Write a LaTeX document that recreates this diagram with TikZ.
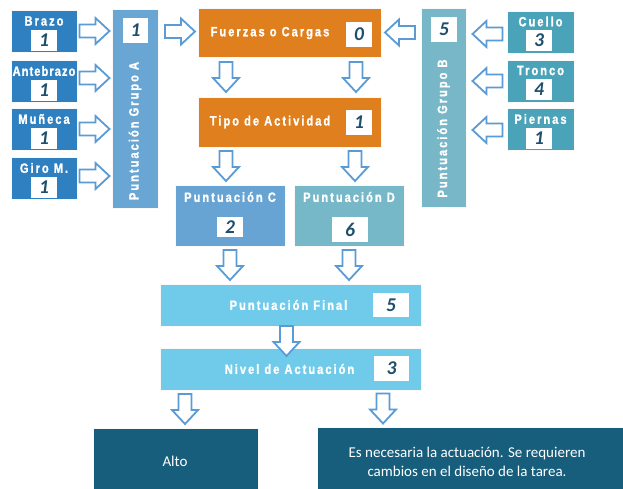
\documentclass[tikz,border=0pt]{standalone}
\usepackage{fontspec}
\setmainfont{Liberation Sans}
\newfontfamily\lblfont[FakeStretch=0.82,LetterSpace=15,BoldFeatures={FakeBold=1.3}]{Liberation Sans}
\newfontfamily\numfont{Carlito}
\newfontfamily\txtfont{Carlito}
\usetikzlibrary{calc}
\definecolor{cLeft}{HTML}{2E80C0}
\definecolor{cGA}{HTML}{6AA6D4}
\definecolor{cOr}{HTML}{E07F1D}
\definecolor{cGB}{HTML}{78B7C7}
\definecolor{cRight}{HTML}{4AA3B8}
\definecolor{cC}{HTML}{67A4D3}
\definecolor{cD}{HTML}{76B8C8}
\definecolor{cFin}{HTML}{70CBEB}
\definecolor{cDark}{HTML}{175D7C}
\definecolor{cNum}{HTML}{1E4E6B}
\definecolor{cArr}{HTML}{5B9BD5}
\tikzset{
  box/.style={rectangle, draw=white!75!black!10, line width=0.6pt, inner sep=0pt, outer sep=0pt},
  lbl/.style={text=white, font=\lblfont\bfseries\fontsize{13.5}{15}\selectfont, inner sep=0pt},
  numbox/.style={fill=white, inner sep=0pt, text=cNum, font=\numfont\bfseries\itshape\fontsize{19.5}{20}\selectfont},
  arrowline/.style={draw=cArr, fill=white, line width=1.8pt, line join=miter},
  harrow/.pic={\path[arrowline] (-15,-6.5) -- (1,-6.5) -- (1,-13) -- (15,0) -- (1,13) -- (1,6.5) -- (-15,6.5) -- cycle;},
  bottxt/.style={text=white, align=center, font=\txtfont\fontsize{15}{19}\selectfont, inner sep=0pt}
}
\begin{document}
\begin{tikzpicture}[x=1pt,y=-1pt]
\useasboundingbox (0,0) rectangle (623,488);
\fill[white] (0,0) rectangle (623,488);
% left boxes
\node[box, fill=cLeft, minimum width=66pt, minimum height=42pt] (brazo) at (44,31) {};
\node[box, fill=cLeft, minimum width=66pt, minimum height=42pt] (ante) at (44,81) {};
\node[box, fill=cLeft, minimum width=66pt, minimum height=42pt] (muneca) at (44,129) {};
\node[box, fill=cLeft, minimum width=66pt, minimum height=42pt] (giro) at (44,178) {};
\node[lbl] (brazoL) at ($(brazo.north)+(0,11)$) {Brazo};
\node[lbl] (anteL) at ($(ante.north)+(0,11)$) {\addfontfeature{LetterSpace=8}Antebrazo};
\node[lbl] (munecaL) at ($(muneca.north)+(0,11)$) {Muñeca};
\node[lbl] (giroL) at ($(giro.north)+(0,11)$) {Giro M.};
\node[numbox, minimum width=26pt, minimum height=21pt] (brazoN) at ($(brazo.north)+(0,30.5)$) {1};
\node[numbox, minimum width=26pt, minimum height=21pt] (anteN) at ($(ante.north)+(0,30.5)$) {1};
\node[numbox, minimum width=26pt, minimum height=21pt] (munecaN) at ($(muneca.north)+(0,30.5)$) {1};
\node[numbox, minimum width=26pt, minimum height=21pt] (giroN) at ($(giro.north)+(0,30.5)$) {1};
% group A
\node[box, fill=cGA, minimum width=46pt, minimum height=199pt] (ga) at (135,108.5) {};
\node[numbox, minimum width=25pt, minimum height=25pt] (gaN) at (135.5,30.5) {1};
\node[lbl, rotate=90] (gaL) at (135,131) {Puntuación Grupo A};
% group B
\node[box, fill=cGB, minimum width=45pt, minimum height=199pt] (gb) at (443.5,107.5) {};
\node[numbox, minimum width=26pt, minimum height=25pt] (gbN) at (444,29.5) {5};
\node[lbl, rotate=90] (gbL) at (443.5,128.5) {Puntuación Grupo B};
% right boxes
\node[box, fill=cRight, minimum width=67pt, minimum height=42pt] (cuello) at (540.5,32) {};
\node[box, fill=cRight, minimum width=67pt, minimum height=42pt] (tronco) at (540.5,81) {};
\node[box, fill=cRight, minimum width=67pt, minimum height=42pt] (piernas) at (540.5,129.5) {};
\node[lbl] (cuelloL) at ($(cuello.north)+(0,10.5)$) {Cuello};
\node[lbl] (troncoL) at ($(tronco.north)+(0,10.5)$) {Tronco};
\node[lbl] (piernasL) at ($(piernas.north)+(0,10.5)$) {Piernas};
\node[numbox, minimum width=26pt, minimum height=21pt] (cuelloN) at ($(cuello.north)+(-1.5,29.5)$) {3};
\node[numbox, minimum width=26pt, minimum height=21pt] (troncoN) at ($(tronco.north)+(-1.5,29.5)$) {4};
\node[numbox, minimum width=26pt, minimum height=21pt] (piernasN) at ($(piernas.north)+(-1.5,29.5)$) {1};
% orange boxes
\node[box, fill=cOr, minimum width=183pt, minimum height=49pt] (fz) at (289.5,32.5) {};
\node[lbl] (fzL) at (270,33) {Fuerzas o Cargas};
\node[numbox, minimum width=26pt, minimum height=25pt] (fzN) at (359,34.5) {0};
\node[box, fill=cOr, minimum width=183pt, minimum height=50pt] (tipo) at (289.5,122) {};
\node[lbl] (tipoL) at (270,122) {Tipo de Actividad};
\node[numbox, minimum width=26pt, minimum height=25pt] (tipoN) at (359,122.5) {1};
% C and D
\node[box, fill=cC, minimum width=110pt, minimum height=61pt] (pc) at (230,215.5) {};
\node[lbl] (pcL) at ($(pc.north)+(0,12)$) {Puntuación C};
\node[numbox, minimum width=26pt, minimum height=20pt] (pcN) at (230,227) {2};
\node[box, fill=cD, minimum width=110pt, minimum height=61pt] (pd) at (349,215.5) {};
\node[lbl] (pdL) at ($(pd.north)+(0,12)$) {Puntuación D};
\node[numbox, minimum width=36pt, minimum height=25pt] (pdN) at (350,229.5) {6};
% final and nivel
\node[box, fill=cFin, minimum width=261pt, minimum height=42pt] (pf) at (290.5,305) {};
\node[lbl] (pfL) at (288.5,305) {Puntuación Final};
\node[numbox, minimum width=36pt, minimum height=24pt] (pfN) at (391,305) {5};
\node[box, fill=cFin, minimum width=261pt, minimum height=42pt] (nv) at (290.5,369) {};
\node[lbl] (nvL) at (289.5,369) {Nivel de Actuación};
\node[numbox, minimum width=35pt, minimum height=25pt] (nvN) at (391.5,368.5) {3};
% bottom boxes
\node[box, fill=cDark, minimum width=165pt, minimum height=72pt] (alto) at (175.5,464) {};
\node[bottxt] (altoL) at (175,461) {Alto};
\node[box, fill=cDark, minimum width=323pt, minimum height=73pt] (act) at (478.5,463.5) {};
\node[bottxt] (actL) at (467,462) {Es necesaria la actuación. Se requieren\\cambios en el diseño de la tarea.};
% arrows
\pic at ($(brazo.east)!0.5!(ga.west |- brazo.east)$) {harrow};
\pic at ($(ante.east)!0.5!(ga.west |- ante.east)+(0,-3)$) {harrow};
\pic at ($(muneca.east)!0.5!(ga.west |- muneca.east)$) {harrow};
\pic at ($(giro.east)!0.5!(ga.west |- giro.east)+(0,-2)$) {harrow};
\pic at ($(ga.east |- fz.west)!0.5!(fz.west)+(2,-1)$) {harrow};
\pic[rotate=180] at ($(fz.east)!0.5!(gb.west |- fz.east)+(-1,0)$) {harrow};
\pic[rotate=180] at ($(cuello.west)!0.5!(gb.east |- cuello.west)+(1,2)$) {harrow};
\pic[rotate=180] at ($(tronco.west)!0.5!(gb.east |- tronco.west)+(1,0)$) {harrow};
\pic[rotate=180] at ($(piernas.west)!0.5!(gb.east |- piernas.west)+(1,0.5)$) {harrow};
\pic[rotate=-90] at ($(fz.south)!0.5!(tipo.north)+(-63.5,0)$) {harrow};
\pic[rotate=-90] at ($(fz.south)!0.5!(tipo.north)+(66.5,0)$) {harrow};
\pic[rotate=-90] at ($(tipo.south)!0.5!(tipo.south |- pc.north)+(-63.5,0)$) {harrow};
\pic[rotate=-90] at ($(tipo.south)!0.5!(tipo.south |- pc.north)+(65.5,0)$) {harrow};
\pic[rotate=-90] at ($(pc.south)!0.5!(pf.north -| pc.south)$) {harrow};
\pic[rotate=-90] at ($(pd.south)!0.5!(pf.north -| pd.south)$) {harrow};
\pic[rotate=-90] at ($(pf.south)!0.5!(nv.north)+(-4,4)$) {harrow};
\pic[rotate=-90] at ($(nv.south)!0.5!(nv.south |- alto.north)+(-105.5,0)$) {harrow};
\pic[rotate=-90] at ($(nv.south)!0.5!(nv.south |- act.north)+(92.5,0)$) {harrow};
\end{tikzpicture}
\end{document}
